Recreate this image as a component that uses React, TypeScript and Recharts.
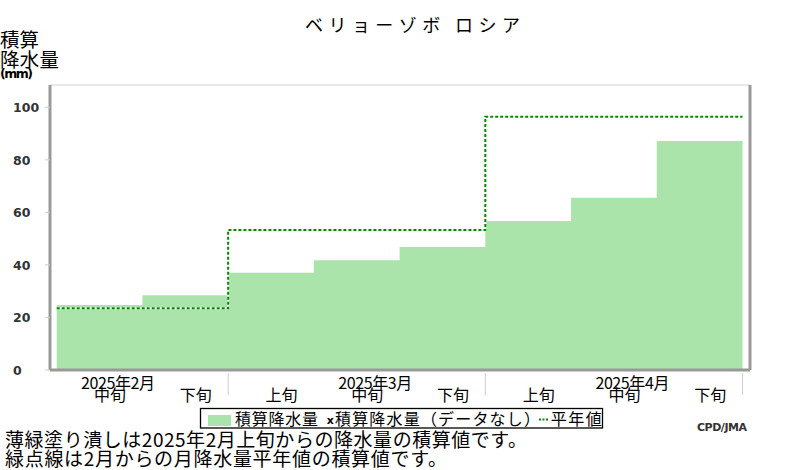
import React from 'react';
import {
  ComposedChart,
  Area,
  Line,
  XAxis,
  YAxis,
  CartesianGrid,
  Legend,
} from 'recharts';

// ---- data ----
const dekadLabels = ['中旬', '下旬', '上旬', '中旬', '下旬', '上旬', '中旬', '下旬'];
const monthLabels = ['2025年2月', '', '', '2025年3月', '', '', '2025年4月', ''];
const precipCum = [24.7, 28.5, 37.0, 41.8, 46.8, 56.7, 65.6, 87.2];
const normalCum = [23.5, 23.5, 53.3, 53.3, 53.3, 96.4, 96.4, 96.4];
const monthBoundaries = [2, 5, 8];
const yTicks = [0, 20, 40, 60, 80, 100];

const titleText = 'ベリョーゾボ ロシア';
const yTitle1 = '積算';
const yTitle2 = '降水量';
const yUnit = '(mm)';
const note1 = '薄緑塗り潰しは2025年2月上旬からの降水量の積算値です。';
const note2 = '緑点線は2月からの月降水量平年値の積算値です。';
const legendPrecip = '積算降水量';
const legendMissing = '積算降水量（データなし）';
const legendNormal = '平年値';
const credit = 'CPD/JMA';

// table built from the arrays (steps: one point per dekad start + closing point)
const table = Array.from({ length: precipCum.length + 1 }, (_, i) => {
  const k = Math.min(i, precipCum.length - 1);
  return { x: i, precip: precipCum[k], normal: normalCum[k] };
});

const xTicks: number[] = [];
dekadLabels.forEach((_, i) => {
  xTicks.push(i + 0.5);
  if (monthBoundaries.includes(i + 1)) xTicks.push(i + 1);
});

const JP = '"Noto Sans CJK JP", "Noto Sans", sans-serif';
const FILL = '#abe4ab';
const GREEN = '#008a00';

const XTick = (props: any) => {
  const { x, y, payload } = props;
  const v = payload.value as number;
  if (Number.isInteger(v)) {
    return <line x1={x} x2={x} y1={y + 3} y2={y + 25} stroke="#cccccc" strokeWidth={1} />;
  }
  const i = Math.floor(v);
  return (
    <g>
      {monthLabels[i] ? (
        <text
          x={x + 18.5}
          y={y + 18.5}
          textAnchor="middle"
          fontFamily={JP}
          fontSize={16}
          fill="#000"
          textLength={74}
        >
          {monthLabels[i]}
        </text>
      ) : null}
      <text x={x + 10.5} y={y + 30.5} textAnchor="middle" fontFamily={JP} fontSize={16} fill="#000">
        {dekadLabels[i]}
      </text>
    </g>
  );
};

const YTick = (props: any) => {
  const { y, payload } = props;
  return (
    <text
      x={13}
      y={y + 5}
      textAnchor="start"
      fontFamily='"DejaVu Sans", sans-serif'
      fontWeight="bold"
      fontSize={12.5}
      fill="#333"
    >
      {payload.value}
    </text>
  );
};

const LegendBox = () => (
  <svg width={410} height={26} style={{ display: 'block' }}>
    <rect x={2.5} y={2.5} width={402} height={19.5} fill="#fff" stroke="#000" strokeWidth={1.3} />
    <rect x={10} y={9} width={23} height={11} fill={FILL} />
    <text x={37} y={19} fontFamily={JP} fontSize={16} fill="#000" textLength={83}>
      {legendPrecip}
    </text>
    <text x={128.7} y={18} fontFamily='"DejaVu Sans", sans-serif' fontWeight="bold" fontSize={11} fill="#000">
      x
    </text>
    <text x={137} y={19} fontFamily={JP} fontSize={16} fill="#000" textLength={205}>
      {legendMissing}
    </text>
    <line x1={341} x2={350} y1={13.5} y2={13.5} stroke={GREEN} strokeWidth={2} strokeDasharray="2 1.5" />
    <text x={352.7} y={19} fontFamily={JP} fontSize={16} fill="#000" textLength={51}>
      {legendNormal}
    </text>
  </svg>
);

export default function App() {
  return (
    <div style={{ position: 'absolute', left: 0, top: 0, width: 800, height: 470, background: '#fff' }}>
      <ComposedChart
        width={800}
        height={470}
        data={table}
        margin={{ top: 85, right: 0, bottom: 0, left: 0 }}
      >
        <CartesianGrid horizontal vertical={false} stroke="#d3d3d3" strokeWidth={1} />
        <XAxis
          dataKey="x"
          type="number"
          domain={[0, 8]}
          ticks={xTicks}
          interval={0}
          height={100}
          padding={{ left: 6.7, right: 7.5 }}
          axisLine={{ stroke: '#999999', strokeWidth: 3 }}
          tickLine={false}
          tickSize={0}
          tickMargin={0}
          tick={<XTick />}
        />
        <YAxis
          yAxisId="left"
          width={50}
          domain={[0, 108.5]}
          ticks={yTicks}
          interval={0}
          axisLine={{ stroke: '#999999', strokeWidth: 3 }}
          tickLine={{ stroke: '#cccccc' }}
          tickSize={5}
          tick={<YTick />}
        />
        <YAxis
          yAxisId="right"
          orientation="right"
          width={50}
          domain={[0, 108.5]}
          ticks={yTicks}
          axisLine={{ stroke: '#999999', strokeWidth: 3 }}
          tickLine={false}
          tick={false}
        />
        <Area
          yAxisId="left"
          dataKey="precip"
          type="stepAfter"
          fill={FILL}
          fillOpacity={1}
          stroke="none"
          isAnimationActive={false}
          dot={false}
          activeDot={false}
        />
        <Line
          yAxisId="left"
          dataKey="normal"
          type="stepAfter"
          stroke="#ffffff"
          strokeWidth={2}
          dot={false}
          activeDot={false}
          isAnimationActive={false}
        />
        <Line
          yAxisId="left"
          dataKey="normal"
          type="stepAfter"
          stroke={GREEN}
          strokeWidth={2}
          strokeDasharray="3 2"
          dot={false}
          activeDot={false}
          isAnimationActive={false}
        />
        <Legend
          layout="horizontal"
          verticalAlign="middle"
          align="center"
          content={<LegendBox />}
          wrapperStyle={{ position: 'absolute', left: 198, top: 406, width: 410, height: 26, margin: 0 }}
        />
      </ComposedChart>
      <svg
        width={800}
        height={470}
        style={{ position: 'absolute', left: 0, top: 0, pointerEvents: 'none' }}
      >
        <text x={305} y={31.5} fontFamily={JP} fontSize={18} fill="#000" textLength={215}>
          {titleText}
        </text>
        <text x={0} y={47} fontFamily={JP} fontSize={19.5} fill="#000" textLength={39}>
          {yTitle1}
        </text>
        <text x={0} y={66.5} fontFamily={JP} fontSize={19.5} fill="#000" textLength={59}>
          {yTitle2}
        </text>
        <text
          x={0}
          y={78}
          fontFamily='"DejaVu Sans", sans-serif'
          fontWeight="bold"
          fontSize={12.5}
          fill="#000"
          textLength={33}
        >
          {yUnit}
        </text>
        <text x={5} y={446.5} fontFamily={JP} fontSize={19} fill="#000" textLength={522}>
          {note1}
        </text>
        <text x={5} y={465.5} fontFamily={JP} fontSize={19} fill="#000" textLength={442}>
          {note2}
        </text>
        <text
          x={697}
          y={431}
          fontFamily='"DejaVu Sans", sans-serif'
          fontWeight="bold"
          fontSize={11}
          fill="#333"
          textLength={50}
        >
          {credit}
        </text>
      </svg>
    </div>
  );
}
